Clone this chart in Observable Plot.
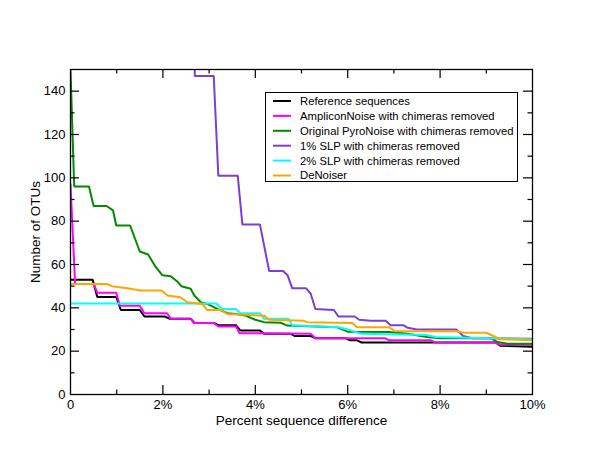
<!DOCTYPE html>
<html><head><meta charset="utf-8">
<script src="https://cdn.jsdelivr.net/npm/d3@7"></script>
<script src="https://cdn.jsdelivr.net/npm/@observablehq/plot@0.6"></script>
<style>body{margin:0;background:#fff}#chart{width:600px;height:464px}</style>
</head><body><div id="chart"></div>
<script>
// x: percent sequence difference, y: number of OTUs
const reference = [[0,53],[0.48,53],[0.58,45],[0.99,45],[1.09,39],[1.5,39],[1.6,36],[2.04,36],[2.14,35],[2.6,35],[2.68,33],[3.1,33],[3.2,32],[3.58,32],[3.68,29.5],[4.1,29.5],[4.2,28],[4.77,28],[4.85,27],[5.2,27],[5.3,26],[5.95,26],[6.05,25],[6.2,25],[6.3,24],[9.2,24],[9.3,22.5],[10,22]];
const ampliconNoise = [[0,97],[0.1,51],[0.5,51],[0.58,47],[0.99,47],[1.07,41],[1.5,41],[1.6,37.5],[2.09,37.5],[2.17,35],[2.6,35],[2.68,33],[3.1,33],[3.2,31.4],[3.58,31.4],[3.66,28.3],[5.2,28],[5.3,26],[6.8,26],[6.9,25],[7.8,25],[7.9,24],[9.2,24],[9.3,23],[10,23]];
const pyroNoise = [[0,150],[0.08,96],[0.4,96],[0.5,87],[0.78,87],[0.92,85],[0.99,78],[1.29,78],[1.5,66],[1.68,64.6],[1.84,59],[1.99,55],[2.17,54.6],[2.33,51.8],[2.4,50],[2.6,48.8],[2.68,45.7],[2.82,42.6],[2.96,41.8],[3.18,39.5],[3.4,37.5],[3.58,37.2],[3.79,36.4],[4.0,34.5],[4.19,33.4],[4.55,33.1],[4.69,31.8],[5.78,31],[6.0,29],[6.9,28.8],[7.29,28],[7.72,26.5],[8.0,26],[9.1,26],[9.24,24.2],[9.46,23.4],[10,23.4]];
const slp1 = [[2.67,300],[2.69,147],[3.1,147],[3.2,101],[3.62,101],[3.72,78.5],[4.1,78.5],[4.3,57],[4.6,57],[4.7,55],[4.8,49],[5.1,49],[5.2,46.5],[5.3,39.5],[5.7,39],[5.8,36],[6.15,36],[6.25,34.5],[6.5,34],[6.82,34],[6.93,32],[7.2,32],[7.3,30.8],[7.5,30],[8.35,30],[8.5,27],[8.7,26],[10,25.7]];
const slp2 = [[0,42],[3.15,42],[3.29,39.5],[3.58,39.5],[3.68,37.5],[4.1,37.5],[4.19,35],[4.72,35],[4.8,32],[5.8,31],[6.0,30],[6.3,28],[7.7,27.5],[7.9,26.5],[10,25.5]];
const deNoiser = [[0,51],[0.78,51],[0.9,50],[1.23,49],[1.52,48],[1.97,48],[2.1,45.7],[2.38,44.9],[2.53,42.6],[2.85,41.8],[2.96,39],[3.25,39],[3.39,37.2],[4.19,36.4],[4.3,34.5],[5.05,34],[5.12,33.4],[6.1,33],[6.2,31],[6.9,31],[7.03,29.2],[8.37,29.2],[8.5,28.5],[9.0,28.5],[9.3,25.5],[10,25]];

const seriesNames = ["Reference sequences","AmpliconNoise with chimeras removed","Original PyroNoise with chimeras removed","1% SLP with chimeras removed","2% SLP with chimeras removed","DeNoiser"];
const seriesValues = [reference, ampliconNoise, pyroNoise, slp1, slp2, deNoiser];
const seriesColors = ["#000000","#ff00ff","#008b00","#7b3fd3","#00ffff","#ffa500"];

const xTickLabels = [0,2,4,6,8,10];
const xMinorTicks = [1,3,5,7,9];
const xMajorTicks = [2,4,6,8];
const yTickLabels = [0,20,40,60,80,100,120,140];
const yMajorTicks = [20,40,60,80,100,120,140];
const yMinorTicks = [10,30,50,70,90,110,130];

const rows = seriesValues.flatMap((vals, i) => vals.map(([x, y]) => ({series: seriesNames[i], x, y})));

const W = 600, H = 464, mL = 70, mR = 68, mT = 69, mB = 70;
const fw = W - mL - mR, fh = H - mT - mB;
const major = 9, minor = 4.5;
const font = "'Liberation Sans', Arial, Helvetica, sans-serif";

const plot = Plot.plot({
  width: W, height: H,
  marginLeft: mL, marginRight: mR, marginTop: mT, marginBottom: mB,
  style: {fontFamily: font, fontSize: "13px", color: "#000", background: "#fff"},
  x: {domain: [0, 10]},
  y: {domain: [0, 150]},
  color: {domain: seriesNames, range: seriesColors},
  marks: [
    Plot.line(rows, {x: "x", y: "y", z: "series", stroke: "series", strokeWidth: 2, clip: true, strokeLinejoin: "miter"}),
    Plot.frame({stroke: "#000", strokeWidth: 1.3}),
    // inward ticks on all four sides
    Plot.tickX(xMajorTicks, {x: d => d, insetTop: fh - major, stroke: "#000", strokeWidth: 1.2}),
    Plot.tickX(xMajorTicks, {x: d => d, insetBottom: fh - major, stroke: "#000", strokeWidth: 1.2}),
    Plot.tickX(xMinorTicks, {x: d => d, insetTop: fh - minor, stroke: "#000", strokeWidth: 1.2}),
    Plot.tickX(xMinorTicks, {x: d => d, insetBottom: fh - minor, stroke: "#000", strokeWidth: 1.2}),
    Plot.tickY(yMajorTicks, {y: d => d, insetRight: fw - major, stroke: "#000", strokeWidth: 1.2}),
    Plot.tickY(yMajorTicks, {y: d => d, insetLeft: fw - major, stroke: "#000", strokeWidth: 1.2}),
    Plot.tickY(yMinorTicks, {y: d => d, insetRight: fw - minor, stroke: "#000", strokeWidth: 1.2}),
    Plot.tickY(yMinorTicks, {y: d => d, insetLeft: fw - minor, stroke: "#000", strokeWidth: 1.2}),
    Plot.axisX({ticks: xTickLabels, tickFormat: d => d === 0 ? "0" : d + "%", tickSize: 0, tickPadding: 5, label: null, fontSize: 13}),
    Plot.axisY({ticks: yTickLabels, tickSize: 0, tickPadding: 5, label: null, fontSize: 13}),
    Plot.text(["Percent sequence difference"], {frameAnchor: "bottom", text: d => d, dy: 21, lineAnchor: "top", textAnchor: "middle", fontSize: 13.5}),
    Plot.text(["Number of OTUs"], {frameAnchor: "left", text: d => d, rotate: -90, dx: -35, lineAnchor: "middle", textAnchor: "middle", fontSize: 13.5})
  ]
});

// legend box inside the plot area
const svg = d3.select(plot);
const lg = svg.append("g").attr("font-family", font).attr("font-size", 11.3)
  .attr("font-weight", 400).attr("text-anchor", "start").attr("stroke", "none");
lg.append("rect").attr("x", 265.5).attr("y", 92.5).attr("width", 252).attr("height", 89)
  .attr("fill", "#fff").attr("stroke", "#000").attr("stroke-width", 1);
seriesNames.forEach((name, i) => {
  const cy = 101 + i * 14.9;
  lg.append("line").attr("x1", 273).attr("x2", 291).attr("y1", cy).attr("y2", cy)
    .attr("stroke", seriesColors[i]).attr("stroke-width", 2);
  lg.append("text").attr("x", 300).attr("y", cy).attr("dy", "0.35em").attr("fill", "#000")
    .attr("stroke", "none").attr("font-weight", 400).attr("text-anchor", "start").text(name);
});

document.getElementById("chart").appendChild(plot);
</script></body></html>
